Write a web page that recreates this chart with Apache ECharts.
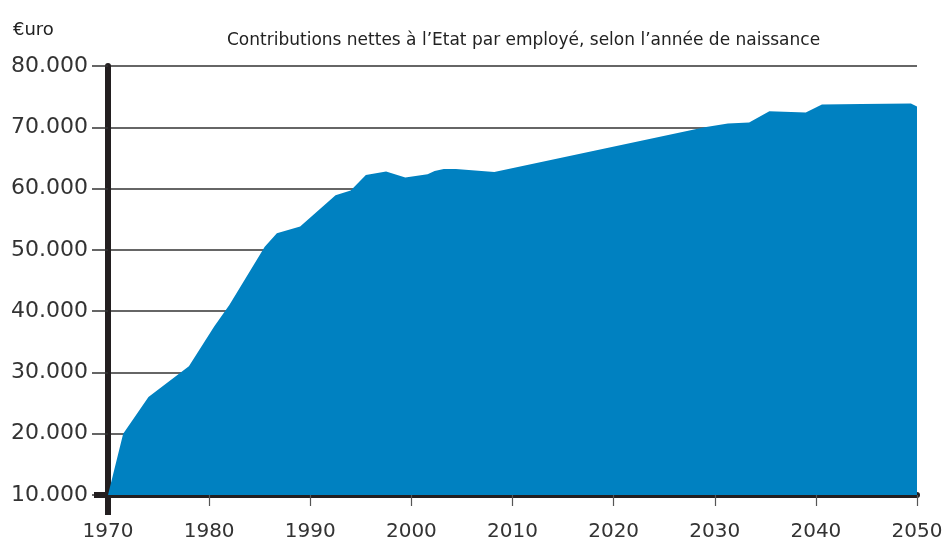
<!DOCTYPE html>
<html>
<head>
<meta charset="utf-8">
<script src="https://cdn.jsdelivr.net/npm/echarts@6/dist/echarts.min.js"></script>
<style>
  html, body { margin: 0; padding: 0; background: #fff; }
  #chart { width: 947px; height: 547px; }
</style>
</head>
<body>
<div id="chart"></div>
<script>
// birth year -> net contribution (euro)
const years = [1970, 1971.5, 1974, 1978, 1980.5, 1982, 1985.5, 1986.7, 1989, 1992.5, 1994, 1995.5, 1997.5,
  1999.4, 2001.6, 2002.3, 2003.2, 2004.4, 2008.2, 2029, 2031.3, 2033.4, 2035.4, 2039, 2040.6, 2044.5, 2049.4, 2050]
const values = [10000, 20000, 26000, 31000, 37500, 41000, 50500, 52700, 53800, 58900, 59700, 62200, 62800,
  61800, 62350, 62850, 63200, 63200, 62700, 70000, 70600, 70800, 72600, 72400, 73700, 73800, 73900, 73400]
const yTicks = [10000, 20000, 30000, 40000, 50000, 60000, 70000, 80000]
const xTicks = [1970, 1980, 1990, 2000, 2010, 2020, 2030, 2040, 2050]

const chart = echarts.init(document.getElementById('chart'))
const font = '"DejaVu Sans", sans-serif'

const option = {
  animation: false,
  title: [{
    text: 'Contributions nettes à l’Etat par employé, selon l’année de naissance',
    left: 222,
    top: 27,
    textStyle: { fontFamily: font, fontSize: 17, fontWeight: 'normal', color: '#222' }
  }, {
    text: '€uro',
    left: 8,
    top: 16,
    textStyle: { fontFamily: font, fontSize: 18, fontWeight: 'normal', color: '#222' }
  }],
  grid: { left: 108, right: 30, top: 66, bottom: 52 },
  xAxis: {
    type: 'value',
    min: xTicks[0],
    max: xTicks[xTicks.length - 1],
    interval: 10,
    axisLine: { show: true, lineStyle: { color: '#231f20', width: 6 } },
    axisTick: { show: true, length: 11, lineStyle: { color: '#555', width: 1.2 } },
    axisLabel: { margin: 27, fontFamily: font, fontSize: 20, color: '#333', formatter: v => String(v) },
    splitLine: { show: false }
  },
  yAxis: {
    type: 'value',
    min: yTicks[0],
    max: yTicks[yTicks.length - 1],
    interval: 10000,
    axisLine: { show: true, onZero: false, lineStyle: { color: '#231f20', width: 6 } },
    axisTick: { show: true, length: 16, lineStyle: { color: '#333', width: 1.5 } },
    axisLabel: {
      margin: 20, fontFamily: font, fontSize: 22, color: '#333',
      formatter: v => (v / 1000).toFixed(0) + '.000'
    },
    splitLine: { show: true, lineStyle: { color: '#333', width: 1.5 } }
  },
  series: [{
    type: 'line',
    data: years.map((y, i) => [y, values[i]]),
    symbol: 'none',
    lineStyle: { width: 0 },
    areaStyle: { color: '#0081c1', opacity: 1 },
    z: 1
  }]
}
chart.setOption(option)

// axis overhang where the two thick axes cross
const o = chart.convertToPixel({ gridIndex: 0 }, [xTicks[0], yTicks[0]])
chart.setOption({
  graphic: [{
    type: 'line', z: 100,
    shape: { x1: o[0] - 14, y1: o[1], x2: o[0], y2: o[1] },
    style: { stroke: '#231f20', lineWidth: 6 }
  }, {
    type: 'line', z: 100,
    shape: { x1: o[0], y1: o[1], x2: o[0], y2: o[1] + 20 },
    style: { stroke: '#231f20', lineWidth: 6 }
  }]
})
</script>
</body>
</html>
